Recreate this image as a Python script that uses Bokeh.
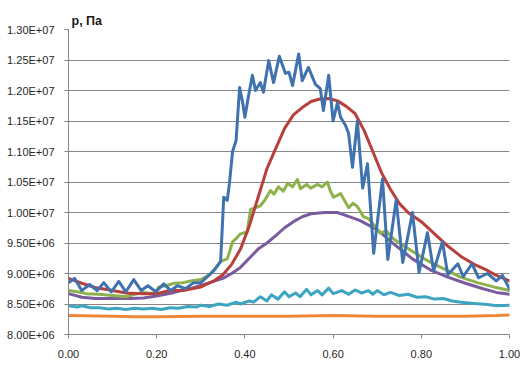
from bokeh.plotting import figure
from bokeh.models import FixedTicker, Range1d
from bokeh.embed import file_html
from bokeh.resources import INLINE

# ---- data (pressure in units of 1e6 Pa) ----
blue_x = [0.00, 0.014, 0.03, 0.048, 0.065, 0.08, 0.097, 0.114, 0.13, 0.148, 0.165, 0.18, 0.198, 0.216,
          0.232, 0.247, 0.265, 0.284, 0.30, 0.315, 0.33, 0.345, 0.352, 0.36, 0.365, 0.372, 0.38, 0.388,
          0.395, 0.40, 0.408, 0.417, 0.424, 0.435, 0.442, 0.454, 0.465, 0.478, 0.492, 0.50, 0.508, 0.522,
          0.53, 0.544, 0.56, 0.571, 0.578, 0.59, 0.60, 0.61, 0.617, 0.628, 0.635, 0.644, 0.655, 0.667,
          0.678, 0.692, 0.712, 0.724, 0.743, 0.758, 0.78, 0.795, 0.814, 0.828, 0.848, 0.86, 0.883, 0.895,
          0.915, 0.93, 0.95, 0.97, 0.984, 1.00]
blue_y = [8.85, 8.92, 8.72, 8.82, 8.72, 8.85, 8.70, 8.87, 8.70, 8.90, 8.72, 8.80, 8.70, 8.83,
          8.72, 8.80, 8.75, 8.85, 8.85, 8.95, 9.05, 9.20, 10.25, 10.20, 10.48, 11.0, 11.18, 12.05,
          11.8, 11.56, 11.9, 12.25, 12.0, 12.13, 11.97, 12.49, 12.13, 12.56, 12.28, 12.30, 12.08, 12.60,
          12.16, 12.38, 12.10, 12.03, 11.67, 12.25, 11.50, 11.80, 11.56, 11.43, 11.30, 10.74, 11.50, 10.40,
          10.80, 9.33, 10.55, 9.23, 10.20, 9.18, 10.00, 9.02, 9.67, 9.04, 9.52, 8.98, 9.16, 8.95,
          9.16, 8.93, 9.00, 8.88, 8.97, 8.75]

red_x = [0.00, 0.03, 0.06, 0.10, 0.13, 0.17, 0.20, 0.23, 0.26, 0.30, 0.33, 0.35, 0.37, 0.39, 0.41, 0.43,
         0.45, 0.47, 0.49, 0.51, 0.53, 0.55, 0.57, 0.59, 0.61, 0.63, 0.65, 0.67, 0.69, 0.71, 0.73, 0.75,
         0.77, 0.80, 0.83, 0.86, 0.89, 0.92, 0.95, 0.97, 1.00]
red_y = [8.92, 8.84, 8.77, 8.72, 8.68, 8.67, 8.67, 8.72, 8.72, 8.78, 8.88, 8.98, 9.15, 9.40, 9.78, 10.25,
         10.72, 11.05, 11.38, 11.60, 11.72, 11.82, 11.86, 11.87, 11.83, 11.74, 11.62, 11.35, 11.00, 10.65, 10.38, 10.15,
         10.00, 9.85, 9.65, 9.45, 9.28, 9.15, 9.05, 8.97, 8.88]

green_x = [0.00, 0.02, 0.04, 0.07, 0.10, 0.13, 0.15, 0.17, 0.195, 0.205, 0.22, 0.24, 0.26, 0.28, 0.30, 0.32,
           0.335, 0.345, 0.36, 0.365, 0.372, 0.38, 0.39, 0.405, 0.413, 0.425, 0.435, 0.445, 0.458, 0.466,
           0.476, 0.487, 0.497, 0.508, 0.519, 0.526, 0.54, 0.549, 0.565, 0.575, 0.587, 0.594, 0.601, 0.617,
           0.635, 0.645, 0.655, 0.669, 0.68, 0.692, 0.707, 0.72, 0.735, 0.746, 0.776, 0.814, 0.85, 0.889,
           0.927, 0.964, 1.00]
green_y = [8.72, 8.70, 8.67, 8.66, 8.64, 8.62, 8.66, 8.69, 8.67, 8.78, 8.80, 8.84, 8.85, 8.88, 8.90, 8.98,
           9.10, 9.20, 9.24, 9.35, 9.52, 9.57, 9.65, 9.68, 10.05, 10.08, 10.11, 10.20, 10.36, 10.30,
           10.42, 10.35, 10.48, 10.42, 10.54, 10.39, 10.46, 10.40, 10.46, 10.42, 10.50, 10.35, 10.25, 10.31,
           10.08, 10.15, 10.10, 9.93, 9.90, 9.80, 9.66, 9.70, 9.58, 9.52, 9.38, 9.21, 9.08, 8.94,
           8.85, 8.78, 8.72]

purple_x = [0.00, 0.03, 0.06, 0.10, 0.14, 0.17, 0.20, 0.24, 0.28, 0.32, 0.35, 0.37, 0.39, 0.41, 0.43, 0.45,
            0.47, 0.49, 0.51, 0.53, 0.55, 0.58, 0.61, 0.63, 0.66, 0.70, 0.74, 0.78, 0.82, 0.86, 0.90, 0.94,
            0.97, 1.00]
purple_y = [8.67, 8.61, 8.59, 8.59, 8.59, 8.60, 8.63, 8.69, 8.76, 8.85, 8.92, 9.00, 9.10, 9.25, 9.40, 9.50,
            9.62, 9.75, 9.85, 9.93, 9.98, 10.00, 10.00, 9.95, 9.87, 9.72, 9.47, 9.24, 9.06, 8.94, 8.84, 8.75,
            8.69, 8.66]

cyan_x = [0.00, 0.02, 0.03, 0.05, 0.07, 0.09, 0.11, 0.13, 0.15, 0.17, 0.19, 0.21, 0.23, 0.25, 0.27, 0.29,
          0.30, 0.32, 0.34, 0.36, 0.38, 0.39, 0.41, 0.42, 0.435, 0.45, 0.46, 0.475, 0.49, 0.50, 0.515, 0.525,
          0.54, 0.55, 0.565, 0.575, 0.59, 0.60, 0.62, 0.635, 0.65, 0.665, 0.68, 0.69, 0.70, 0.715, 0.73,
          0.75, 0.77, 0.79, 0.81, 0.83, 0.85, 0.87, 0.89, 0.92, 0.95, 0.97, 1.00]
cyan_y = [8.47, 8.45, 8.47, 8.44, 8.44, 8.42, 8.43, 8.41, 8.43, 8.42, 8.43, 8.41, 8.44, 8.43, 8.46, 8.45,
          8.48, 8.46, 8.50, 8.48, 8.53, 8.50, 8.55, 8.53, 8.62, 8.55, 8.65, 8.58, 8.70, 8.62, 8.68, 8.62,
          8.74, 8.65, 8.72, 8.65, 8.76, 8.67, 8.72, 8.66, 8.73, 8.68, 8.72, 8.66, 8.72, 8.65, 8.69,
          8.64, 8.66, 8.61, 8.62, 8.58, 8.59, 8.55, 8.53, 8.51, 8.49, 8.47, 8.48]

orange_x = [0.00, 0.10, 0.15, 0.20, 0.30, 0.40, 0.50, 0.60, 0.70, 0.80, 0.90, 0.97, 1.00]
orange_y = [8.31, 8.30, 8.29, 8.29, 8.30, 8.30, 8.30, 8.31, 8.30, 8.30, 8.30, 8.31, 8.32]

y_ticks = [8.0, 8.5, 9.0, 9.5, 10.0, 10.5, 11.0, 11.5, 12.0, 12.5, 13.0]
y_tick_labels = ["8.00E+06", "8.50E+06", "9.00E+06", "9.50E+06", "1.00E+07", "1.05E+07",
                 "1.10E+07", "1.15E+07", "1.20E+07", "1.25E+07", "1.30E+07"]
x_ticks = [0.0, 0.2, 0.4, 0.6, 0.8, 1.0]
x_tick_labels = ["0.00", "0.20", "0.40", "0.60", "0.80", "1.00"]

SCALE = 1e6

p = figure(width=523, height=365, output_backend="svg", toolbar_location=None,
           frame_width=441, frame_height=305,
           x_range=Range1d(0, 1.0), y_range=Range1d(8.0 * SCALE, 13.0 * SCALE),
           min_border_left=68, min_border_right=14, min_border_top=29, min_border_bottom=31,
           title="p, Па")
p.outline_line_color = None
p.background_fill_color = "white"
p.border_fill_color = "white"

p.title.text_font = "Liberation Sans"
p.title.text_font_size = "12.5px"
p.title.text_font_style = "bold"
p.title.text_color = "#1a1a1a"
p.title.align = "left"
p.title.offset = 3
p.title.standoff = 4

ax_col = "#868686"
p.xgrid.visible = False
p.ygrid.grid_line_color = ax_col
p.ygrid.grid_line_width = 1

p.yaxis.ticker = FixedTicker(ticks=[t * SCALE for t in y_ticks])
p.yaxis.major_label_overrides = {t * SCALE: s for t, s in zip(y_ticks, y_tick_labels)}
p.xaxis.ticker = FixedTicker(ticks=x_ticks)
p.xaxis.major_label_overrides = {t: s for t, s in zip(x_ticks, x_tick_labels)}

for ax in (p.xaxis, p.yaxis):
    ax.axis_line_color = ax_col
    ax.major_tick_line_color = ax_col
    ax.major_tick_out = 4
    ax.major_tick_in = 0
    ax.minor_tick_line_color = None
    ax.major_label_text_font = "Liberation Sans"
    ax.major_label_text_font_size = "11px"
    ax.major_label_text_color = "#262626"
p.yaxis.major_label_standoff = 10
p.xaxis.major_label_standoff = 11

series = [
    (orange_x, orange_y, "#F0883A"),
    (cyan_x, cyan_y, "#3DA5C1"),
    (purple_x, purple_y, "#7A5C9E"),
    (green_x, green_y, "#8DB24C"),
    (red_x, red_y, "#B8403C"),
    (blue_x, blue_y, "#3F72AF"),
]
for xs, ys, col in series:
    p.line(xs, [v * SCALE for v in ys], line_color=col, line_width=3, line_join="round", line_cap="round")

open("out.html", "w").write(file_html(p, INLINE))
